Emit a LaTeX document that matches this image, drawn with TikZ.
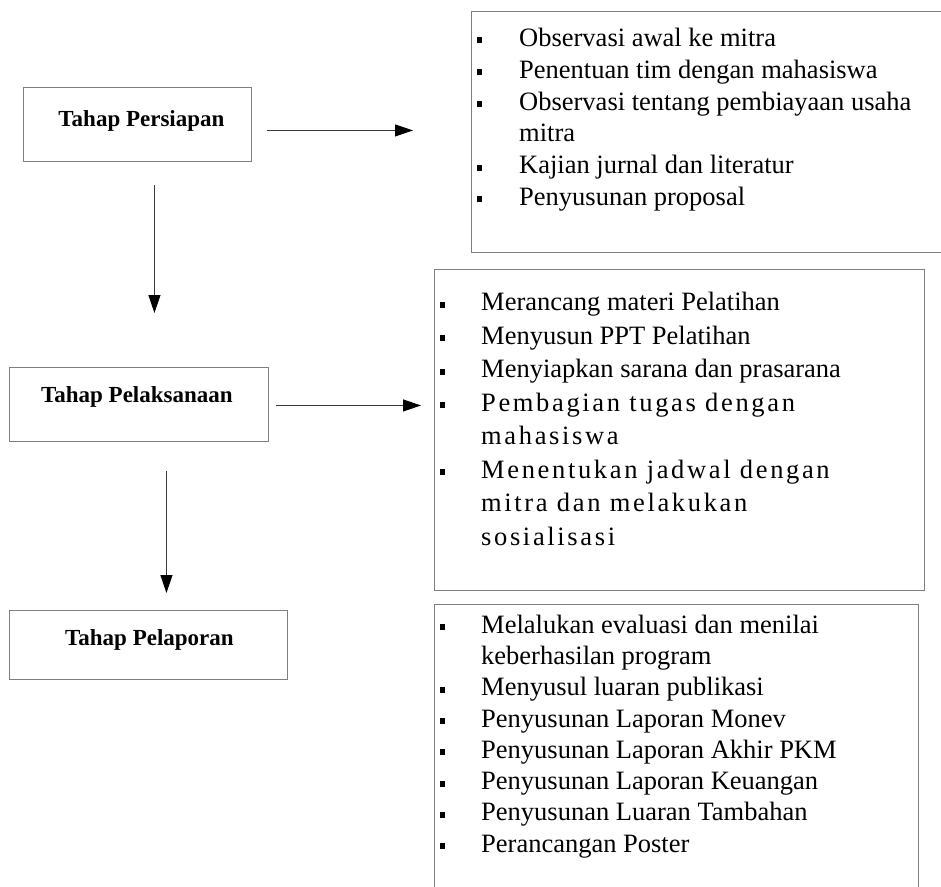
\documentclass[tikz,border=0pt]{standalone}
\usepackage{fontspec}
\setmainfont{Liberation Serif}
\newfontfamily\spacedfont[LetterSpace=10]{Liberation Serif}
\usetikzlibrary{positioning}
\usetikzlibrary{arrows.meta}
\definecolor{boxgray}{HTML}{7F7F7F}
\definecolor{linegray}{HTML}{3A3A3A}
\tikzset{box/.style={draw=boxgray,line width=0.9pt,anchor=north west,inner sep=0pt}}
\tikzset{stage/.style={box,minimum height=74pt}}
\tikzset{heading/.style={anchor=base,inner sep=0pt,font=\fontsize{23}{27}\selectfont\bfseries}}
\tikzset{list/.style={anchor=north west,inner sep=0pt,font=\fontsize{26.5}{31.8}\selectfont}}
\tikzset{flow/.style={draw=linegray,line width=1pt,-{Triangle[length=18pt,width=12pt,color=black]}}}
\newcommand{\bul}{\rule[3pt]{5pt}{6pt}}

\begin{document}
\begin{tikzpicture}[x=1pt,y=-1pt]

    \path[use as bounding box,clip] (0,0) rectangle (941,886);

    \node[stage,minimum width=228pt] (persiapan) at (23,87) {};
    \node[stage,minimum width=259pt] (pelaksanaan) at (9,367) {};
    \node[stage,minimum width=278pt,minimum height=69pt] (pelaporan) at (9,610) {};

    \node[heading] (persiapantxt) at ([xshift=4pt,yshift=-39pt]persiapan.north) {Tahap Persiapan};
    \node[heading] (pelaksanaantxt) at ([xshift=-2pt,yshift=-35pt]pelaksanaan.north) {Tahap Pelaksanaan};
    \node[heading] (pelaporantxt) at ([xshift=1pt,yshift=-35pt]pelaporan.north) {Tahap Pelaporan};

    \node[box,minimum width=540pt,minimum height=241pt] (observasi) at (471,11) {};
    \node[box,minimum width=490pt,minimum height=321pt] (kegiatan) at (434,269) {};
    \node[box,minimum width=484pt,minimum height=330pt] (laporan) at (434,604) {};

    \draw[flow,shorten <=15pt,shorten >=58pt] ([yshift=-6pt]persiapan.east) -- ([yshift=-6pt]persiapan.east -| observasi.west);
    \draw[flow,shorten <=7pt,shorten >=13pt] ([yshift=-1pt]pelaksanaan.east) -- ([yshift=-1pt]pelaksanaan.east -| kegiatan.west);
    \draw[flow,shorten <=23pt,shorten >=54pt] ([xshift=17pt]persiapan.south) -- ([xshift=17pt]persiapan.south |- pelaksanaan.north);
    \draw[flow,shorten <=29pt,shorten >=17pt] ([xshift=27.5pt]pelaksanaan.south) -- ([xshift=27.5pt]pelaksanaan.south |- pelaporan.north);

    \node[list] (obslist) at ([xshift=6pt,yshift=-13pt]observasi.north west) {%
        \begin{tabular}{@{}p{42pt}@{}l@{}}
        \bul & Observasi awal ke mitra\\
        \bul & Penentuan tim dengan mahasiswa\\
        \bul & Observasi tentang pembiayaan usaha\\
             & mitra\\
        \bul & Kajian jurnal dan literatur\\
        \bul & Penyusunan proposal\\
        \end{tabular}
    };

    \node[list,font=\fontsize{26.5}{33.5}\selectfont] (kegiatanlist) at ([xshift=6pt,yshift=-18pt]kegiatan.north west) {%
        \begin{tabular}{@{}p{41pt}@{}l@{}}
        \bul & Merancang materi Pelatihan\\
        \bul & Menyusun PPT Pelatihan\\
        \bul & Menyiapkan sarana dan prasarana\\
        \bul & {\spacedfont Pembagian tugas dengan}\\
             & {\spacedfont mahasiswa}\\
        \bul & {\spacedfont Menentukan jadwal dengan}\\
             & {\spacedfont mitra dan melakukan}\\
             & {\spacedfont sosialisasi}\\
        \end{tabular}
    };

    \node[list,font=\fontsize{26.5}{31.3}\selectfont] (laporanlist) at ([xshift=6pt,yshift=-7pt]laporan.north west) {%
        \begin{tabular}{@{}p{41pt}@{}l@{}}
        \bul & Melalukan evaluasi dan menilai\\
             & keberhasilan program\\
        \bul & Menyusul luaran publikasi\\
        \bul & Penyusunan Laporan Monev\\
        \bul & Penyusunan Laporan Akhir PKM\\
        \bul & Penyusunan Laporan Keuangan\\
        \bul & Penyusunan Luaran Tambahan\\
        \bul & Perancangan Poster\\
        \end{tabular}
    };

\end{tikzpicture}
\end{document}
